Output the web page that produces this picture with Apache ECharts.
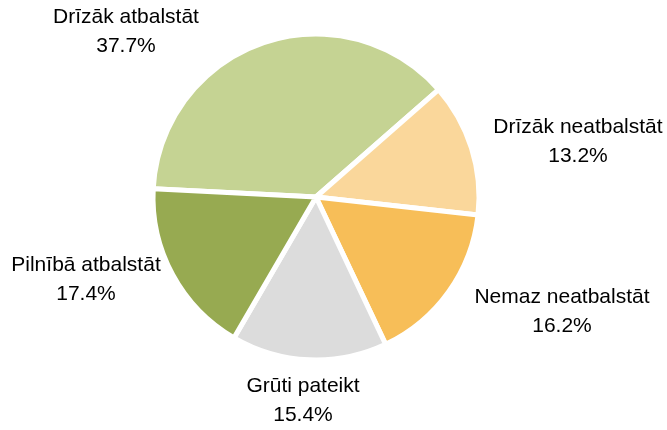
<!DOCTYPE html>
<html>
<head>
<meta charset="utf-8">
<script src="https://cdn.jsdelivr.net/npm/echarts@6/dist/echarts.min.js"></script>
<style>
  html, body { margin: 0; padding: 0; background: #fff; }
  #chart { width: 667px; height: 430px; }
</style>
</head>
<body>
<div id="chart"></div>
<script>
// clockwise from the left edge
var categories = ['Drīzāk atbalstāt', 'Drīzāk neatbalstāt', 'Nemaz neatbalstāt', 'Grūti pateikt', 'Pilnībā atbalstāt'];
var shares = [37.7, 13.2, 16.2, 15.4, 17.4];
var colors = ['#c5d393', '#fad79b', '#f7be58', '#dcdcdc', '#97aa51'];

// where Excel put the data labels (centre of each two-line label)
var labelPos = [[126, 32], [578, 142], [562, 312], [303, 401], [86, 280]];

var chart = echarts.init(document.getElementById('chart'));

var pieData = [];
for (var i = 0; i < categories.length; i++) {
  pieData.push({ name: categories[i], value: shares[i], itemStyle: { color: colors[i] } });
}

chart.setOption({
  animation: false,
  backgroundColor: '#fff',
  series: [{
    type: 'pie',
    center: [316, 197],
    radius: 163,
    startAngle: 177.1,
    clockwise: true,
    avoidLabelOverlap: false,
    itemStyle: { borderColor: '#fff', borderWidth: 5 },
    emphasis: { disabled: true },
    label: {
      show: true,
      position: 'outside',
      formatter: '{b}\n{c}%',
      fontFamily: '"Liberation Sans", Arial, sans-serif',
      fontSize: 21,
      lineHeight: 29,
      color: '#000',
      align: 'center'
    },
    labelLine: { show: false },
    labelLayout: function (params) {
      var p = labelPos[params.dataIndex];
      return { x: p[0], y: p[1], align: 'center', verticalAlign: 'middle' };
    },
    data: pieData
  }]
});
</script>
</body>
</html>
